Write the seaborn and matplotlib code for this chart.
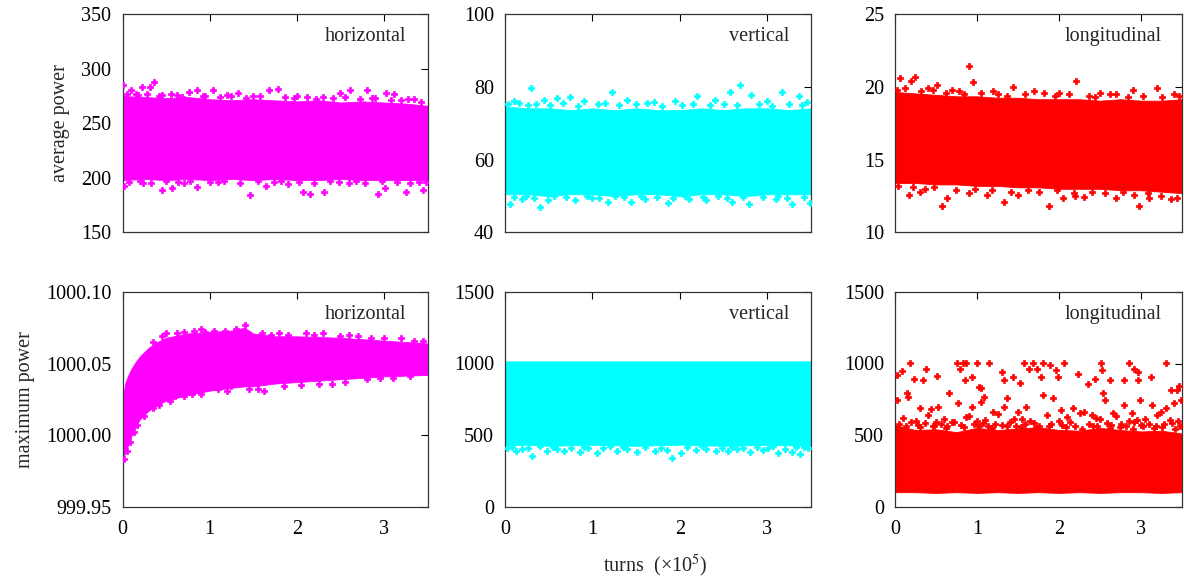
import numpy as np
import matplotlib
matplotlib.use("Agg")
import matplotlib.pyplot as plt
import seaborn as sns

# ---------------- data (turns in units of 1e5) ----------------
env_turns = [0, 0.25, 0.5, 0.75, 1.0, 1.25, 1.5, 1.75, 2.0, 2.25, 2.5, 2.75, 3.0, 3.25, 3.5]

# average power, horizontal
avg_h_upper = [275, 274, 273, 274, 272, 271, 272, 271, 270, 271, 269, 270, 269, 268, 266]
avg_h_lower = [198, 199, 198, 199, 198, 199, 198, 199, 198, 198, 199, 198, 198, 198, 198]
avg_h_out_x = [0.0, 0.10, 0.22, 0.36, 0.31, 0.56, 0.76, 0.86, 1.04, 1.32, 1.68, 1.79, 2.50, 2.61, 2.81, 3.02, 3.12, 3.34,
               0.15, 0.45, 0.95, 1.2, 1.5, 2.0, 2.3, 2.9, 3.2,
               0.02, 0.24, 0.45, 0.57, 0.85, 1.46, 1.65, 2.07, 2.15, 2.31, 2.93, 3.01, 3.25, 3.45,
               0.7, 1.1, 1.9, 2.6, 3.4,
               0.05, 0.18, 0.28, 0.42, 0.62, 0.68, 0.92, 1.12, 1.25, 1.42, 1.58, 1.86, 1.97, 2.12, 2.22,
               2.42, 2.55, 2.72, 2.86, 3.08, 3.28, 3.42,
               0.08, 0.2, 0.33, 0.5, 0.64, 0.78, 1.0, 1.16, 1.35, 1.55, 1.74, 1.82, 2.03, 2.2, 2.38,
               2.48, 2.68, 2.78, 2.98, 3.15, 3.3, 3.48]
avg_h_out_y = [285, 280, 283, 288, 283, 277, 279, 280, 280, 278, 280, 281, 278, 280, 280, 278, 277, 272,
               277, 276, 275, 276, 275, 275, 274, 273, 271,
               193, 195, 189, 191, 192, 184, 193, 187, 185, 187, 185, 191, 187, 189,
               195, 196, 194, 195, 196,
               277, 276, 277, 275, 276, 274, 275, 274, 275, 273, 275, 274, 273, 274, 272,
               273, 274, 272, 273, 271, 272, 269,
               196, 197, 195, 197, 196, 197, 196, 197, 195, 197, 196, 197, 196, 195, 197,
               196, 197, 195, 197, 196, 195, 196]

# average power, vertical
avg_v_upper = [74.6, 74.1, 74.1, 73.6, 74.1, 73.6, 74.1, 73.6, 73.6, 74.1, 73.6, 74.1, 74.1, 73.6, 74.1]
avg_v_lower = [50.5, 50.5, 50, 50.5, 50.5, 50, 50.5, 50.5, 50, 50.5, 50.5, 50, 50.5, 50.5, 50.5]
avg_v_out_x = [2.69, 0.30, 1.22, 2.57, 3.17, 2.20, 0.59, 0.74, 2.81, 3.36,
               0.1, 0.45, 0.9, 1.4, 1.7, 1.95, 2.4, 3.0, 3.45,
               0.06, 0.40, 1.18, 1.44, 1.86, 2.60, 2.79, 3.28, 3.49, 0.49,
               0.2, 0.8, 1.0, 1.6, 2.1, 2.3, 3.1,
               0.03, 0.16, 0.26, 0.36, 0.52, 0.66, 0.84, 1.06, 1.14, 1.3, 1.5, 1.62, 1.8, 2.02, 2.15,
               2.35, 2.5, 2.65, 2.9, 3.05, 3.25, 3.4,
               0.1, 0.24, 0.33, 0.56, 0.7, 0.94, 1.08, 1.26, 1.36, 1.55, 1.74, 1.92, 2.06, 2.26, 2.44,
               2.54, 2.72, 2.95, 3.12, 3.22, 3.42]
avg_v_out_y = [80.4, 79.6, 78.7, 78.7, 78.7, 77.6, 77.0, 77.2, 77.7, 77.6,
               76.2, 76.5, 76.0, 76.3, 75.8, 76.1, 76.4, 76.2, 75.9,
               47.9, 47.1, 48.3, 48.4, 48.0, 48.4, 47.9, 47.9, 48.2, 48.8,
               49.2, 49.0, 49.4, 49.1, 49.3, 49.0, 49.2,
               75.2, 75.6, 74.9, 75.4, 75.0, 75.5, 74.8, 75.3, 75.6, 74.9, 75.2, 75.5, 74.8, 75.1, 75.4,
               74.9, 75.3, 75.0, 75.4, 74.8, 75.2, 75.0,
               49.8, 50.0, 49.6, 49.9, 49.7, 50.0, 49.6, 49.9, 49.7, 50.0, 49.8, 49.6, 49.9, 49.7, 50.0,
               49.6, 49.8, 49.7, 49.9, 49.6, 49.8]

# average power, longitudinal
avg_l_upper = [19.65, 19.55, 19.45, 19.35, 19.35, 19.25, 19.25, 19.15, 19.15, 19.15, 19.05, 19.15, 19.05, 19.05, 19.15]
avg_l_lower = [13.4, 13.4, 13.3, 13.3, 13.2, 13.2, 13.1, 13.1, 13.0, 13.0, 13.0, 12.9, 12.9, 12.8, 12.7]
avg_l_out_x = [0.90, 0.06, 0.24, 0.19, 0.95, 2.21, 0.51, 3.19, 2.90, 1.44,
               0.4, 0.7, 1.2, 1.7, 2.0, 2.5, 2.7, 3.4,
               0.57, 1.33, 1.88, 2.98, 0.64, 0.17, 1.12, 2.31, 3.37, 2.05, 2.70,
               0.3, 0.9, 1.5, 2.2, 3.1,
               0.02, 0.12, 0.32, 0.46, 0.62, 0.78, 0.84, 1.05, 1.26, 1.36, 1.58, 1.82, 1.95, 2.12, 2.36,
               2.44, 2.62, 2.84, 3.02, 3.26, 3.46,
               0.04, 0.22, 0.36, 0.48, 0.74, 0.98, 1.18, 1.42, 1.62, 1.76, 1.98, 2.18, 2.4, 2.56, 2.78,
               2.92, 3.08, 3.24, 3.44]
avg_l_out_y = [21.45, 20.6, 20.7, 20.4, 20.3, 20.4, 20.1, 19.9, 19.8, 20.0,
               19.9, 19.8, 19.7, 19.7, 19.6, 19.6, 19.5, 19.5,
               11.85, 12.06, 11.85, 11.85, 12.35, 12.6, 12.6, 12.45, 12.3, 12.35, 12.4,
               12.8, 12.7, 12.6, 12.5, 12.4,
               19.8, 19.9, 19.7, 19.8, 19.6, 19.7, 19.5, 19.6, 19.5, 19.4, 19.5, 19.6, 19.4, 19.5, 19.4,
               19.3, 19.5, 19.3, 19.4, 19.3, 19.4,
               13.2, 13.1, 13.0, 13.1, 12.9, 13.0, 12.9, 12.8, 12.9, 12.8, 12.9, 12.7, 12.8, 12.7, 12.8,
               12.6, 12.7, 12.5, 12.4]

# maximum power, horizontal
max_h_env_x = [0, 0.03, 0.06, 0.1, 0.15, 0.2, 0.3, 0.4, 0.5, 0.75, 1.0, 1.25, 1.4, 1.5, 1.75, 2.0, 2.5, 3.0, 3.5]
max_h_upper = [1000.023, 1000.036, 1000.041, 1000.046, 1000.051, 1000.055, 1000.061, 1000.065, 1000.068,
               1000.071, 1000.072, 1000.073, 1000.075, 1000.071, 1000.069, 1000.069, 1000.068, 1000.066, 1000.064]
max_h_lower = [999.984, 999.987, 999.992, 999.999, 1000.006, 1000.011, 1000.017, 1000.021, 1000.024,
               1000.028, 1000.031, 1000.033, 1000.034, 1000.034, 1000.036, 1000.037, 1000.039, 1000.041, 1000.042]
max_h_out_x = [0.02, 0.05, 0.09, 0.13, 0.17, 0.25, 0.35, 0.6, 0.8, 1.1, 1.55, 1.25, 2.4, 3.1,
               0.5, 1.4, 1.3, 2.3, 3.2, 0.35, 0.9, 1.8, 2.7,
               0.45, 0.62, 0.7, 0.82, 0.95, 1.05, 1.18, 1.6, 1.7, 1.9, 2.1, 2.2, 2.5, 2.6, 2.85, 3.0, 3.35, 3.45,
               0.42, 0.55, 0.7, 0.9, 1.2, 1.45, 1.62, 1.85, 2.05, 2.25, 2.55, 2.8, 2.95, 3.3]
max_h_out_y = [999.983, 999.989, 999.995, 1000.002, 1000.007, 1000.013, 1000.019, 1000.027, 1000.029,
               1000.032, 1000.032, 1000.034, 1000.036, 1000.040,
               1000.071, 1000.077, 1000.074, 1000.071, 1000.068, 1000.065, 1000.074, 1000.071, 1000.069,
               1000.069, 1000.071, 1000.072, 1000.073, 1000.072, 1000.073, 1000.073, 1000.071, 1000.070,
               1000.070, 1000.071, 1000.070, 1000.069, 1000.070, 1000.068, 1000.068, 1000.066, 1000.066,
               1000.021, 1000.024, 1000.027, 1000.029, 1000.031, 1000.032, 1000.031, 1000.034, 1000.035,
               1000.036, 1000.037, 1000.039, 1000.040, 1000.041]

# maximum power, vertical
max_v_upper = [1015] * 15
max_v_lower = [428, 432, 424, 428, 432, 428, 424, 428, 432, 428, 424, 428, 432, 428, 424]
max_v_out_x = [0.02, 0.13, 0.31, 0.48, 0.67, 0.86, 1.05, 1.28, 1.51, 1.72, 1.91, 2.01, 2.18, 2.41,
               2.55, 2.80, 3.01, 3.12, 3.28, 3.37, 3.47,
               0.2, 0.6, 0.95, 1.4, 1.85, 2.3, 2.65, 2.95, 3.2,
               0.08, 0.26, 0.4, 0.55, 0.75, 0.9, 1.12, 1.2, 1.35, 1.6, 1.78, 2.08, 2.25, 2.48, 2.6,
               2.72, 2.88, 3.06, 3.33, 3.42]
max_v_out_y = [408, 385, 355, 385, 389, 378, 373, 385, 378, 385, 339, 373, 392, 385,
               385, 378, 408, 373, 378, 369, 408,
               405, 400, 410, 402, 398, 404, 400, 395, 405,
               418, 412, 420, 415, 410, 418, 412, 420, 414, 418, 410, 416, 420, 412, 418,
               410, 416, 420, 414, 418]

# maximum power, longitudinal
max_l_upper = [570, 535, 540, 520, 550, 535, 545, 555, 535, 530, 550, 535, 525, 530, 510]
max_l_lower = [100, 100, 95, 100, 95, 100, 95, 100, 95, 100, 95, 100, 100, 95, 100]
max_l_out_x = [0.18, 0.75, 0.83, 0.87, 1.00, 1.15, 1.57, 1.68, 1.80, 2.06, 2.51, 2.85, 3.31,
               0.03, 0.08, 0.38, 0.23, 0.34, 0.51, 0.79, 0.85, 0.94, 1.02, 1.05, 1.30, 1.33, 1.44,
               1.52, 1.64, 1.73, 1.78, 1.89, 1.96, 1.99, 2.23, 2.35, 2.44, 2.52, 2.62, 2.79, 2.91,
               2.96, 2.96, 3.12, 3.37, 3.44, 3.46,
               0.03, 0.15, 0.16, 0.31, 0.44, 0.53, 0.66, 0.77, 0.86, 0.94, 1.05, 1.09, 1.19, 1.33,
               1.37, 1.50, 1.60, 1.80, 1.93, 2.03, 2.17, 2.25, 2.40, 2.54, 2.56, 2.66, 2.79, 2.89,
               2.99, 3.14, 3.24, 3.30, 3.40, 3.49,
               0.1, 0.25, 0.4, 0.6, 0.7, 0.9, 1.1, 1.25, 1.45, 1.65, 1.85, 2.1, 2.3, 2.5, 2.7,
               2.85, 3.05, 3.2, 3.35, 0.5, 1.0, 1.55, 2.0, 2.45, 2.95, 3.45,
               0.05, 0.13, 0.2, 0.28, 0.36, 0.46, 0.56, 0.64, 0.72, 0.8, 0.96, 1.07, 1.14, 1.22, 1.3,
               1.4, 1.48, 1.58, 1.7, 1.76, 1.9, 2.04, 2.14, 2.2, 2.36, 2.42, 2.58, 2.64, 2.76, 2.82,
               2.92, 3.0, 3.1, 3.18, 3.28, 3.38, 3.47,
               0.12, 0.3, 0.48, 0.62, 0.84, 1.02, 1.18, 1.36, 1.54, 1.72, 1.88, 2.08, 2.28, 2.46, 2.62,
               2.74, 2.9, 3.02, 3.16, 3.26, 3.42]
max_l_out_y = [1005, 1005, 1005, 1005, 1005, 1005, 1005, 1005, 1005, 1005, 1005, 1005, 1005,
               919, 949, 960, 895, 888, 912, 963, 884, 907, 837, 832, 942, 884, 907,
               865, 965, 965, 907, 988, 953, 907, 930, 860, 895, 953, 884, 884, 965,
               942, 884, 907, 814, 814, 842,
               744, 791, 767, 686, 679, 698, 791, 721, 628, 698, 733, 767, 663, 698,
               756, 663, 698, 779, 756, 674, 686, 656, 639, 791, 744, 651, 709, 656,
               744, 709, 663, 686, 721, 744,
               620, 600, 640, 610, 590, 630, 605, 650, 615, 600, 640, 625, 660, 610, 630,
               600, 615, 640, 605, 590, 600, 610, 595, 620, 605, 600,
               575, 560, 590, 570, 585, 565, 580, 560, 590, 570, 575, 585, 560, 580, 570,
               590, 565, 575, 585, 560, 580, 570, 590, 565, 580, 560, 585, 570, 575, 560,
               590, 570, 580, 565, 575, 585, 560,
               545, 555, 560, 550, 555, 565, 550, 560, 555, 550, 560, 555, 545, 560, 550,
               555, 545, 560, 550, 555, 540]

# ---------------- style ----------------
sns.set_theme(style="white")
plt.rcParams["font.family"] = ["Liberation Serif", "DejaVu Serif"]
plt.rcParams["mathtext.fontset"] = "stix"
plt.rcParams["font.size"] = 14

MAG, CYA, RED = "#ff00ff", "#00ffff", "#ff0000"

fig = plt.figure(figsize=(11.84, 5.85), dpi=100)
W, H = 1184, 585

def axes_px(x0, y0, x1, y1):
    return fig.add_axes([x0 / W, 1 - y1 / H, (x1 - x0) / W, (y1 - y0) / H])

cols = [(122.5, 427.5), (505, 811), (895, 1182)]
rows = [(14, 232.5), (292, 506.5)]

panels = [
    (0, 0, env_turns, avg_h_upper, avg_h_lower, avg_h_out_x, avg_h_out_y, MAG, (150, 350), [150, 200, 250, 300, 350], "horizontal", "average power"),
    (0, 1, env_turns, avg_v_upper, avg_v_lower, avg_v_out_x, avg_v_out_y, CYA, (40, 100), [40, 60, 80, 100], "vertical", None),
    (0, 2, env_turns, avg_l_upper, avg_l_lower, avg_l_out_x, avg_l_out_y, RED, (10, 25), [10, 15, 20, 25], "longitudinal", None),
    (1, 0, max_h_env_x, max_h_upper, max_h_lower, max_h_out_x, max_h_out_y, MAG, (999.95, 1000.10), [999.95, 1000.00, 1000.05, 1000.10], "horizontal", "maximum power"),
    (1, 1, env_turns, max_v_upper, max_v_lower, max_v_out_x, max_v_out_y, CYA, (0, 1500), [0, 500, 1000, 1500], "vertical", None),
    (1, 2, env_turns, max_l_upper, max_l_lower, max_l_out_x, max_l_out_y, RED, (0, 1500), [0, 500, 1000, 1500], "longitudinal", None),
]

for (r, c, ex, up, lo, ox, oy, col, ylim, yt, lab, ylab) in panels:
    x0, x1 = cols[c]
    y0, y1 = rows[r]
    ax = axes_px(x0, y0, x1, y1)
    ax.fill_between(ex, lo, up, color=col, linewidth=0.6, edgecolor=col, zorder=2)
    sns.scatterplot(x=ox, y=oy, ax=ax, color=col, marker="P", s=16, linewidth=0.5,
                    edgecolor=col, legend=False, zorder=3)
    ax.set_xlim(0, 3.5)
    ax.set_ylim(*ylim)
    ax.set_xticks([0, 1, 2, 3])
    ax.set_yticks(yt)
    if r == 1 and c == 0:
        ax.set_yticklabels([f"{v:.2f}" for v in yt])
    if r == 0:
        ax.set_xticklabels([])
    ax.tick_params(direction="in", length=5, width=0.8, top=True, right=True,
                   labelsize=14.5, colors="black")
    ax.tick_params(axis="y", pad=8)
    ax.tick_params(axis="x", pad=10)
    for s in ax.spines.values():
        s.set_color("#333333")
        s.set_linewidth(0.9)
    ax.text(0.93, 0.895, lab, transform=ax.transAxes, ha="right", va="center", fontsize=14.5)
    if ylab:
        ax.set_ylabel(ylab, fontsize=14.5, labelpad=8)
    ax.set_xlabel("")
    ax.grid(False)

fig.text(655 / W, 1 - 566 / H, "turns  (×10$^{5}$)", ha="center", va="center", fontsize=14.5)

fig.savefig("out.png", dpi=100, facecolor="white")
